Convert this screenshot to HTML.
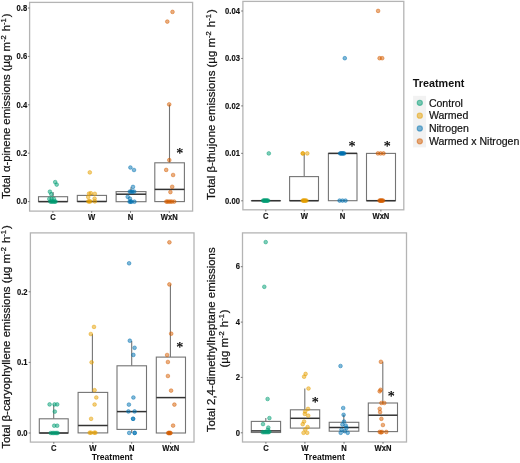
<!DOCTYPE html>
<html><head><meta charset="utf-8"><style>
html,body{margin:0;padding:0;background:#fff;}
body{width:520px;height:463px;overflow:hidden;}
svg{display:block;will-change:transform;font-family:"Liberation Sans",sans-serif;}
</style></head><body>
<svg width="520" height="463" viewBox="0 0 520 463">
<rect width="520" height="463" fill="#fff"/>
<line x1="53.1" y1="192.1" x2="53.1" y2="196.7" stroke="#747474" stroke-width="1.1"/>
<rect x="38.5" y="196.7" width="29.10" height="4.90" fill="#fff" stroke="#747474" stroke-width="1.1"/>
<line x1="38.5" y1="201.6" x2="67.6" y2="201.6" stroke="#333" stroke-width="1.5"/>
<line x1="91.9" y1="194.0" x2="91.9" y2="195.4" stroke="#747474" stroke-width="1.1"/>
<rect x="77.3" y="195.4" width="29.20" height="6.10" fill="#fff" stroke="#747474" stroke-width="1.1"/>
<line x1="77.3" y1="201.5" x2="106.5" y2="201.5" stroke="#333" stroke-width="1.5"/>
<line x1="131.0" y1="187.2" x2="131.0" y2="191.6" stroke="#747474" stroke-width="1.1"/>
<rect x="116.1" y="191.6" width="29.90" height="10.10" fill="#fff" stroke="#747474" stroke-width="1.1"/>
<line x1="116.1" y1="194.2" x2="146.0" y2="194.2" stroke="#333" stroke-width="1.5"/>
<line x1="169.5" y1="104.6" x2="169.5" y2="162.8" stroke="#747474" stroke-width="1.1"/>
<rect x="154.8" y="162.8" width="29.60" height="38.80" fill="#fff" stroke="#747474" stroke-width="1.1"/>
<line x1="154.8" y1="189.4" x2="184.4" y2="189.4" stroke="#333" stroke-width="1.5"/>
<circle cx="55.2" cy="182.1" r="1.85" fill="#009E73" fill-opacity="0.5" stroke="#009E73" stroke-opacity="0.5" stroke-width="0.9"/>
<circle cx="56.7" cy="184.6" r="1.85" fill="#009E73" fill-opacity="0.5" stroke="#009E73" stroke-opacity="0.5" stroke-width="0.9"/>
<circle cx="49.9" cy="191.7" r="1.85" fill="#009E73" fill-opacity="0.5" stroke="#009E73" stroke-opacity="0.5" stroke-width="0.9"/>
<circle cx="51.3" cy="194.2" r="1.85" fill="#009E73" fill-opacity="0.5" stroke="#009E73" stroke-opacity="0.5" stroke-width="0.9"/>
<circle cx="49.3" cy="198.9" r="1.85" fill="#009E73" fill-opacity="0.5" stroke="#009E73" stroke-opacity="0.5" stroke-width="0.9"/>
<circle cx="51.6" cy="198.9" r="1.85" fill="#009E73" fill-opacity="0.5" stroke="#009E73" stroke-opacity="0.5" stroke-width="0.9"/>
<circle cx="53.9" cy="198.9" r="1.85" fill="#009E73" fill-opacity="0.5" stroke="#009E73" stroke-opacity="0.5" stroke-width="0.9"/>
<circle cx="50.3" cy="201.6" r="1.85" fill="#009E73" fill-opacity="0.5" stroke="#009E73" stroke-opacity="0.5" stroke-width="0.9"/>
<circle cx="51.4" cy="201.6" r="1.85" fill="#009E73" fill-opacity="0.5" stroke="#009E73" stroke-opacity="0.5" stroke-width="0.9"/>
<circle cx="52.5" cy="201.6" r="1.85" fill="#009E73" fill-opacity="0.5" stroke="#009E73" stroke-opacity="0.5" stroke-width="0.9"/>
<circle cx="53.6" cy="201.6" r="1.85" fill="#009E73" fill-opacity="0.5" stroke="#009E73" stroke-opacity="0.5" stroke-width="0.9"/>
<circle cx="54.7" cy="201.6" r="1.85" fill="#009E73" fill-opacity="0.5" stroke="#009E73" stroke-opacity="0.5" stroke-width="0.9"/>
<circle cx="55.6" cy="201.6" r="1.85" fill="#009E73" fill-opacity="0.5" stroke="#009E73" stroke-opacity="0.5" stroke-width="0.9"/>
<circle cx="89.8" cy="172.4" r="1.85" fill="#E69F00" fill-opacity="0.5" stroke="#E69F00" stroke-opacity="0.5" stroke-width="0.9"/>
<circle cx="89.0" cy="193.6" r="1.85" fill="#E69F00" fill-opacity="0.5" stroke="#E69F00" stroke-opacity="0.5" stroke-width="0.9"/>
<circle cx="90.8" cy="193.2" r="1.85" fill="#E69F00" fill-opacity="0.5" stroke="#E69F00" stroke-opacity="0.5" stroke-width="0.9"/>
<circle cx="94.8" cy="193.8" r="1.85" fill="#E69F00" fill-opacity="0.5" stroke="#E69F00" stroke-opacity="0.5" stroke-width="0.9"/>
<circle cx="88.2" cy="197.0" r="1.85" fill="#E69F00" fill-opacity="0.5" stroke="#E69F00" stroke-opacity="0.5" stroke-width="0.9"/>
<circle cx="94.6" cy="198.6" r="1.85" fill="#E69F00" fill-opacity="0.5" stroke="#E69F00" stroke-opacity="0.5" stroke-width="0.9"/>
<circle cx="88.3" cy="201.4" r="1.85" fill="#E69F00" fill-opacity="0.5" stroke="#E69F00" stroke-opacity="0.5" stroke-width="0.9"/>
<circle cx="89.3" cy="201.4" r="1.85" fill="#E69F00" fill-opacity="0.5" stroke="#E69F00" stroke-opacity="0.5" stroke-width="0.9"/>
<circle cx="90.3" cy="201.4" r="1.85" fill="#E69F00" fill-opacity="0.5" stroke="#E69F00" stroke-opacity="0.5" stroke-width="0.9"/>
<circle cx="94.8" cy="201.4" r="1.85" fill="#E69F00" fill-opacity="0.5" stroke="#E69F00" stroke-opacity="0.5" stroke-width="0.9"/>
<circle cx="130.4" cy="167.5" r="1.85" fill="#0072B2" fill-opacity="0.5" stroke="#0072B2" stroke-opacity="0.5" stroke-width="0.9"/>
<circle cx="134.0" cy="170.0" r="1.85" fill="#0072B2" fill-opacity="0.5" stroke="#0072B2" stroke-opacity="0.5" stroke-width="0.9"/>
<circle cx="133.0" cy="186.9" r="1.85" fill="#0072B2" fill-opacity="0.5" stroke="#0072B2" stroke-opacity="0.5" stroke-width="0.9"/>
<circle cx="129.8" cy="191.6" r="1.85" fill="#0072B2" fill-opacity="0.5" stroke="#0072B2" stroke-opacity="0.5" stroke-width="0.9"/>
<circle cx="131.2" cy="191.6" r="1.85" fill="#0072B2" fill-opacity="0.5" stroke="#0072B2" stroke-opacity="0.5" stroke-width="0.9"/>
<circle cx="132.6" cy="191.6" r="1.85" fill="#0072B2" fill-opacity="0.5" stroke="#0072B2" stroke-opacity="0.5" stroke-width="0.9"/>
<circle cx="134.2" cy="191.6" r="1.85" fill="#0072B2" fill-opacity="0.5" stroke="#0072B2" stroke-opacity="0.5" stroke-width="0.9"/>
<circle cx="127.7" cy="196.8" r="1.85" fill="#0072B2" fill-opacity="0.5" stroke="#0072B2" stroke-opacity="0.5" stroke-width="0.9"/>
<circle cx="129.9" cy="198.6" r="1.85" fill="#0072B2" fill-opacity="0.5" stroke="#0072B2" stroke-opacity="0.5" stroke-width="0.9"/>
<circle cx="129.6" cy="201.7" r="1.85" fill="#0072B2" fill-opacity="0.5" stroke="#0072B2" stroke-opacity="0.5" stroke-width="0.9"/>
<circle cx="130.6" cy="201.7" r="1.85" fill="#0072B2" fill-opacity="0.5" stroke="#0072B2" stroke-opacity="0.5" stroke-width="0.9"/>
<circle cx="131.6" cy="201.7" r="1.85" fill="#0072B2" fill-opacity="0.5" stroke="#0072B2" stroke-opacity="0.5" stroke-width="0.9"/>
<circle cx="134.4" cy="201.7" r="1.85" fill="#0072B2" fill-opacity="0.5" stroke="#0072B2" stroke-opacity="0.5" stroke-width="0.9"/>
<circle cx="172.5" cy="11.9" r="1.85" fill="#D55E00" fill-opacity="0.5" stroke="#D55E00" stroke-opacity="0.5" stroke-width="0.9"/>
<circle cx="167.3" cy="21.6" r="1.85" fill="#D55E00" fill-opacity="0.5" stroke="#D55E00" stroke-opacity="0.5" stroke-width="0.9"/>
<circle cx="169.2" cy="104.4" r="1.85" fill="#D55E00" fill-opacity="0.5" stroke="#D55E00" stroke-opacity="0.5" stroke-width="0.9"/>
<circle cx="169.3" cy="160.1" r="1.85" fill="#D55E00" fill-opacity="0.5" stroke="#D55E00" stroke-opacity="0.5" stroke-width="0.9"/>
<circle cx="166.2" cy="169.9" r="1.85" fill="#D55E00" fill-opacity="0.5" stroke="#D55E00" stroke-opacity="0.5" stroke-width="0.9"/>
<circle cx="173.1" cy="175.0" r="1.85" fill="#D55E00" fill-opacity="0.5" stroke="#D55E00" stroke-opacity="0.5" stroke-width="0.9"/>
<circle cx="172.2" cy="186.8" r="1.85" fill="#D55E00" fill-opacity="0.5" stroke="#D55E00" stroke-opacity="0.5" stroke-width="0.9"/>
<circle cx="170.4" cy="192.1" r="1.85" fill="#D55E00" fill-opacity="0.5" stroke="#D55E00" stroke-opacity="0.5" stroke-width="0.9"/>
<circle cx="166.3" cy="201.6" r="1.85" fill="#D55E00" fill-opacity="0.5" stroke="#D55E00" stroke-opacity="0.5" stroke-width="0.9"/>
<circle cx="167.5" cy="201.6" r="1.85" fill="#D55E00" fill-opacity="0.5" stroke="#D55E00" stroke-opacity="0.5" stroke-width="0.9"/>
<circle cx="169.0" cy="201.6" r="1.85" fill="#D55E00" fill-opacity="0.5" stroke="#D55E00" stroke-opacity="0.5" stroke-width="0.9"/>
<circle cx="170.5" cy="201.6" r="1.85" fill="#D55E00" fill-opacity="0.5" stroke="#D55E00" stroke-opacity="0.5" stroke-width="0.9"/>
<circle cx="172.0" cy="201.6" r="1.85" fill="#D55E00" fill-opacity="0.5" stroke="#D55E00" stroke-opacity="0.5" stroke-width="0.9"/>
<circle cx="174.2" cy="201.6" r="1.85" fill="#D55E00" fill-opacity="0.5" stroke="#D55E00" stroke-opacity="0.5" stroke-width="0.9"/>
<text x="179.67" y="158.30" text-anchor="middle" font-family="Liberation Serif" font-size="14.0" fill="#000" stroke="#000" stroke-width="0.25">*</text>
<rect x="29.6" y="2.4" width="163.00" height="208.70" fill="none" stroke="#b4b4b4" stroke-width="1.3"/>
<line x1="27.900000000000002" y1="201.6" x2="29.6" y2="201.6" stroke="#666" stroke-width="0.9"/>
<text transform="translate(27.2,204.35) scale(0.93,1)" text-anchor="end" font-size="8.2" font-weight="bold" fill="#111" stroke="#111" stroke-width="0.15">0.0</text>
<line x1="27.900000000000002" y1="153.2" x2="29.6" y2="153.2" stroke="#666" stroke-width="0.9"/>
<text transform="translate(27.2,155.95) scale(0.93,1)" text-anchor="end" font-size="8.2" font-weight="bold" fill="#111" stroke="#111" stroke-width="0.15">0.2</text>
<line x1="27.900000000000002" y1="104.8" x2="29.6" y2="104.8" stroke="#666" stroke-width="0.9"/>
<text transform="translate(27.2,107.55) scale(0.93,1)" text-anchor="end" font-size="8.2" font-weight="bold" fill="#111" stroke="#111" stroke-width="0.15">0.4</text>
<line x1="27.900000000000002" y1="56.4" x2="29.6" y2="56.4" stroke="#666" stroke-width="0.9"/>
<text transform="translate(27.2,59.15) scale(0.93,1)" text-anchor="end" font-size="8.2" font-weight="bold" fill="#111" stroke="#111" stroke-width="0.15">0.6</text>
<line x1="27.900000000000002" y1="8.0" x2="29.6" y2="8.0" stroke="#666" stroke-width="0.9"/>
<text transform="translate(27.2,10.75) scale(0.93,1)" text-anchor="end" font-size="8.2" font-weight="bold" fill="#111" stroke="#111" stroke-width="0.15">0.8</text>
<line x1="52.9" y1="211.1" x2="52.9" y2="212.79999999999998" stroke="#666" stroke-width="0.9"/>
<text transform="translate(52.9,219.8) scale(0.93,1)" text-anchor="middle" font-size="8.2" font-weight="bold" fill="#111" stroke="#111" stroke-width="0.15">C</text>
<line x1="91.7" y1="211.1" x2="91.7" y2="212.79999999999998" stroke="#666" stroke-width="0.9"/>
<text transform="translate(91.7,219.8) scale(0.93,1)" text-anchor="middle" font-size="8.2" font-weight="bold" fill="#111" stroke="#111" stroke-width="0.15">W</text>
<line x1="130.5" y1="211.1" x2="130.5" y2="212.79999999999998" stroke="#666" stroke-width="0.9"/>
<text transform="translate(130.5,219.8) scale(0.93,1)" text-anchor="middle" font-size="8.2" font-weight="bold" fill="#111" stroke="#111" stroke-width="0.15">N</text>
<line x1="169.3" y1="211.1" x2="169.3" y2="212.79999999999998" stroke="#666" stroke-width="0.9"/>
<text transform="translate(169.3,219.8) scale(0.93,1)" text-anchor="middle" font-size="8.2" font-weight="bold" fill="#111" stroke="#111" stroke-width="0.15">WxN</text>
<text transform="translate(9.8,106.3) rotate(-90)" text-anchor="middle" font-size="11.32" fill="#111" stroke="#111" stroke-width="0.22">Total α-pinene emissions (µg m<tspan dy="-4.2" font-size="7.6">-2</tspan><tspan dy="4.2" dx="0.9"> h</tspan><tspan dy="-4.2" font-size="7.6">-1</tspan><tspan dy="4.2" dx="0.9">)</tspan></text>
<rect x="251.4" y="200.7" width="29.10" height="0.01" fill="#fff" stroke="#747474" stroke-width="1.1"/>
<line x1="251.4" y1="200.7" x2="280.5" y2="200.7" stroke="#333" stroke-width="1.5"/>
<line x1="304.2" y1="153.4" x2="304.2" y2="176.6" stroke="#747474" stroke-width="1.1"/>
<rect x="289.6" y="176.6" width="28.90" height="24.10" fill="#fff" stroke="#747474" stroke-width="1.1"/>
<line x1="289.6" y1="200.7" x2="318.5" y2="200.7" stroke="#333" stroke-width="1.5"/>
<rect x="328.4" y="153.4" width="28.60" height="47.30" fill="#fff" stroke="#747474" stroke-width="1.1"/>
<line x1="328.4" y1="153.4" x2="357.0" y2="153.4" stroke="#333" stroke-width="1.5"/>
<rect x="366.5" y="153.4" width="29.00" height="47.30" fill="#fff" stroke="#747474" stroke-width="1.1"/>
<line x1="366.5" y1="200.7" x2="395.5" y2="200.7" stroke="#333" stroke-width="1.5"/>
<circle cx="268.8" cy="153.4" r="1.85" fill="#009E73" fill-opacity="0.5" stroke="#009E73" stroke-opacity="0.5" stroke-width="0.9"/>
<circle cx="263.1" cy="200.6" r="1.85" fill="#009E73" fill-opacity="0.5" stroke="#009E73" stroke-opacity="0.5" stroke-width="0.9"/>
<circle cx="263.8" cy="200.6" r="1.85" fill="#009E73" fill-opacity="0.5" stroke="#009E73" stroke-opacity="0.5" stroke-width="0.9"/>
<circle cx="264.5" cy="200.6" r="1.85" fill="#009E73" fill-opacity="0.5" stroke="#009E73" stroke-opacity="0.5" stroke-width="0.9"/>
<circle cx="265.2" cy="200.6" r="1.85" fill="#009E73" fill-opacity="0.5" stroke="#009E73" stroke-opacity="0.5" stroke-width="0.9"/>
<circle cx="265.9" cy="200.6" r="1.85" fill="#009E73" fill-opacity="0.5" stroke="#009E73" stroke-opacity="0.5" stroke-width="0.9"/>
<circle cx="266.6" cy="200.6" r="1.85" fill="#009E73" fill-opacity="0.5" stroke="#009E73" stroke-opacity="0.5" stroke-width="0.9"/>
<circle cx="267.3" cy="200.6" r="1.85" fill="#009E73" fill-opacity="0.5" stroke="#009E73" stroke-opacity="0.5" stroke-width="0.9"/>
<circle cx="268.1" cy="200.6" r="1.85" fill="#009E73" fill-opacity="0.5" stroke="#009E73" stroke-opacity="0.5" stroke-width="0.9"/>
<circle cx="302.7" cy="153.4" r="1.85" fill="#E69F00" fill-opacity="0.5" stroke="#E69F00" stroke-opacity="0.5" stroke-width="0.9"/>
<circle cx="302.9" cy="153.4" r="1.85" fill="#E69F00" fill-opacity="0.5" stroke="#E69F00" stroke-opacity="0.5" stroke-width="0.9"/>
<circle cx="307.3" cy="153.4" r="1.85" fill="#E69F00" fill-opacity="0.5" stroke="#E69F00" stroke-opacity="0.5" stroke-width="0.9"/>
<circle cx="302.7" cy="200.6" r="1.85" fill="#E69F00" fill-opacity="0.5" stroke="#E69F00" stroke-opacity="0.5" stroke-width="0.9"/>
<circle cx="303.4" cy="200.6" r="1.85" fill="#E69F00" fill-opacity="0.5" stroke="#E69F00" stroke-opacity="0.5" stroke-width="0.9"/>
<circle cx="304.1" cy="200.6" r="1.85" fill="#E69F00" fill-opacity="0.5" stroke="#E69F00" stroke-opacity="0.5" stroke-width="0.9"/>
<circle cx="304.8" cy="200.6" r="1.85" fill="#E69F00" fill-opacity="0.5" stroke="#E69F00" stroke-opacity="0.5" stroke-width="0.9"/>
<circle cx="305.5" cy="200.6" r="1.85" fill="#E69F00" fill-opacity="0.5" stroke="#E69F00" stroke-opacity="0.5" stroke-width="0.9"/>
<circle cx="306.5" cy="200.6" r="1.85" fill="#E69F00" fill-opacity="0.5" stroke="#E69F00" stroke-opacity="0.5" stroke-width="0.9"/>
<circle cx="344.8" cy="58.2" r="1.85" fill="#0072B2" fill-opacity="0.5" stroke="#0072B2" stroke-opacity="0.5" stroke-width="0.9"/>
<circle cx="340.1" cy="153.4" r="1.85" fill="#0072B2" fill-opacity="0.5" stroke="#0072B2" stroke-opacity="0.5" stroke-width="0.9"/>
<circle cx="340.9" cy="153.4" r="1.85" fill="#0072B2" fill-opacity="0.5" stroke="#0072B2" stroke-opacity="0.5" stroke-width="0.9"/>
<circle cx="341.7" cy="153.4" r="1.85" fill="#0072B2" fill-opacity="0.5" stroke="#0072B2" stroke-opacity="0.5" stroke-width="0.9"/>
<circle cx="342.5" cy="153.4" r="1.85" fill="#0072B2" fill-opacity="0.5" stroke="#0072B2" stroke-opacity="0.5" stroke-width="0.9"/>
<circle cx="343.3" cy="153.4" r="1.85" fill="#0072B2" fill-opacity="0.5" stroke="#0072B2" stroke-opacity="0.5" stroke-width="0.9"/>
<circle cx="344.2" cy="153.4" r="1.85" fill="#0072B2" fill-opacity="0.5" stroke="#0072B2" stroke-opacity="0.5" stroke-width="0.9"/>
<circle cx="339.6" cy="200.6" r="1.85" fill="#0072B2" fill-opacity="0.5" stroke="#0072B2" stroke-opacity="0.5" stroke-width="0.9"/>
<circle cx="342.5" cy="200.6" r="1.85" fill="#0072B2" fill-opacity="0.5" stroke="#0072B2" stroke-opacity="0.5" stroke-width="0.9"/>
<circle cx="345.5" cy="200.6" r="1.85" fill="#0072B2" fill-opacity="0.5" stroke="#0072B2" stroke-opacity="0.5" stroke-width="0.9"/>
<circle cx="378.1" cy="10.9" r="1.85" fill="#D55E00" fill-opacity="0.5" stroke="#D55E00" stroke-opacity="0.5" stroke-width="0.9"/>
<circle cx="379.6" cy="58.2" r="1.85" fill="#D55E00" fill-opacity="0.5" stroke="#D55E00" stroke-opacity="0.5" stroke-width="0.9"/>
<circle cx="382.2" cy="58.2" r="1.85" fill="#D55E00" fill-opacity="0.5" stroke="#D55E00" stroke-opacity="0.5" stroke-width="0.9"/>
<circle cx="377.9" cy="153.4" r="1.85" fill="#D55E00" fill-opacity="0.5" stroke="#D55E00" stroke-opacity="0.5" stroke-width="0.9"/>
<circle cx="380.6" cy="153.4" r="1.85" fill="#D55E00" fill-opacity="0.5" stroke="#D55E00" stroke-opacity="0.5" stroke-width="0.9"/>
<circle cx="383.5" cy="153.4" r="1.85" fill="#D55E00" fill-opacity="0.5" stroke="#D55E00" stroke-opacity="0.5" stroke-width="0.9"/>
<circle cx="379.5" cy="200.6" r="1.85" fill="#D55E00" fill-opacity="0.5" stroke="#D55E00" stroke-opacity="0.5" stroke-width="0.9"/>
<circle cx="380.2" cy="200.6" r="1.85" fill="#D55E00" fill-opacity="0.5" stroke="#D55E00" stroke-opacity="0.5" stroke-width="0.9"/>
<circle cx="380.9" cy="200.6" r="1.85" fill="#D55E00" fill-opacity="0.5" stroke="#D55E00" stroke-opacity="0.5" stroke-width="0.9"/>
<circle cx="381.6" cy="200.6" r="1.85" fill="#D55E00" fill-opacity="0.5" stroke="#D55E00" stroke-opacity="0.5" stroke-width="0.9"/>
<circle cx="382.3" cy="200.6" r="1.85" fill="#D55E00" fill-opacity="0.5" stroke="#D55E00" stroke-opacity="0.5" stroke-width="0.9"/>
<circle cx="383.1" cy="200.6" r="1.85" fill="#D55E00" fill-opacity="0.5" stroke="#D55E00" stroke-opacity="0.5" stroke-width="0.9"/>
<text x="351.97" y="150.70" text-anchor="middle" font-family="Liberation Serif" font-size="14.0" fill="#000" stroke="#000" stroke-width="0.25">*</text>
<text x="387.37" y="150.70" text-anchor="middle" font-family="Liberation Serif" font-size="14.0" fill="#000" stroke="#000" stroke-width="0.25">*</text>
<rect x="242.9" y="1.4" width="160.90" height="208.40" fill="none" stroke="#b4b4b4" stroke-width="1.3"/>
<line x1="241.20000000000002" y1="200.8" x2="242.9" y2="200.8" stroke="#666" stroke-width="0.9"/>
<text transform="translate(239.9,203.55) scale(0.93,1)" text-anchor="end" font-size="8.2" font-weight="bold" fill="#111" stroke="#111" stroke-width="0.15">0.00</text>
<line x1="241.20000000000002" y1="153.35" x2="242.9" y2="153.35" stroke="#666" stroke-width="0.9"/>
<text transform="translate(239.9,156.10) scale(0.93,1)" text-anchor="end" font-size="8.2" font-weight="bold" fill="#111" stroke="#111" stroke-width="0.15">0.01</text>
<line x1="241.20000000000002" y1="105.9" x2="242.9" y2="105.9" stroke="#666" stroke-width="0.9"/>
<text transform="translate(239.9,108.65) scale(0.93,1)" text-anchor="end" font-size="8.2" font-weight="bold" fill="#111" stroke="#111" stroke-width="0.15">0.02</text>
<line x1="241.20000000000002" y1="58.45" x2="242.9" y2="58.45" stroke="#666" stroke-width="0.9"/>
<text transform="translate(239.9,61.20) scale(0.93,1)" text-anchor="end" font-size="8.2" font-weight="bold" fill="#111" stroke="#111" stroke-width="0.15">0.03</text>
<line x1="241.20000000000002" y1="11.0" x2="242.9" y2="11.0" stroke="#666" stroke-width="0.9"/>
<text transform="translate(239.9,13.75) scale(0.93,1)" text-anchor="end" font-size="8.2" font-weight="bold" fill="#111" stroke="#111" stroke-width="0.15">0.04</text>
<line x1="265.8" y1="209.8" x2="265.8" y2="211.5" stroke="#666" stroke-width="0.9"/>
<text transform="translate(265.8,218.8) scale(0.93,1)" text-anchor="middle" font-size="8.2" font-weight="bold" fill="#111" stroke="#111" stroke-width="0.15">C</text>
<line x1="304.3" y1="209.8" x2="304.3" y2="211.5" stroke="#666" stroke-width="0.9"/>
<text transform="translate(304.3,218.8) scale(0.93,1)" text-anchor="middle" font-size="8.2" font-weight="bold" fill="#111" stroke="#111" stroke-width="0.15">W</text>
<line x1="342.6" y1="209.8" x2="342.6" y2="211.5" stroke="#666" stroke-width="0.9"/>
<text transform="translate(342.6,218.8) scale(0.93,1)" text-anchor="middle" font-size="8.2" font-weight="bold" fill="#111" stroke="#111" stroke-width="0.15">N</text>
<line x1="380.9" y1="209.8" x2="380.9" y2="211.5" stroke="#666" stroke-width="0.9"/>
<text transform="translate(380.9,218.8) scale(0.93,1)" text-anchor="middle" font-size="8.2" font-weight="bold" fill="#111" stroke="#111" stroke-width="0.15">WxN</text>
<text transform="translate(215,104.6) rotate(-90)" text-anchor="middle" font-size="11.45" fill="#111" stroke="#111" stroke-width="0.22">Total β-thujone emissions (µg m<tspan dy="-4.2" font-size="7.6">-2</tspan><tspan dy="4.2" dx="0.9"> h</tspan><tspan dy="-4.2" font-size="7.6">-1</tspan><tspan dy="4.2" dx="0.9">)</tspan></text>
<line x1="53.7" y1="404.6" x2="53.7" y2="418.8" stroke="#747474" stroke-width="1.1"/>
<rect x="39.3" y="418.8" width="28.90" height="14.20" fill="#fff" stroke="#747474" stroke-width="1.1"/>
<line x1="39.3" y1="433.0" x2="68.2" y2="433.0" stroke="#333" stroke-width="1.5"/>
<line x1="92.4" y1="334.0" x2="92.4" y2="392.4" stroke="#747474" stroke-width="1.1"/>
<rect x="78.1" y="392.4" width="29.60" height="40.50" fill="#fff" stroke="#747474" stroke-width="1.1"/>
<line x1="78.1" y1="425.5" x2="107.7" y2="425.5" stroke="#333" stroke-width="1.5"/>
<line x1="131.7" y1="340.9" x2="131.7" y2="365.8" stroke="#747474" stroke-width="1.1"/>
<line x1="131.7" y1="429.4" x2="131.7" y2="433.0" stroke="#747474" stroke-width="1.1"/>
<rect x="117.0" y="365.8" width="29.50" height="63.60" fill="#fff" stroke="#747474" stroke-width="1.1"/>
<line x1="117.0" y1="411.6" x2="146.5" y2="411.6" stroke="#333" stroke-width="1.5"/>
<line x1="170.4" y1="284.4" x2="170.4" y2="357.1" stroke="#747474" stroke-width="1.1"/>
<rect x="156.3" y="357.1" width="29.20" height="75.90" fill="#fff" stroke="#747474" stroke-width="1.1"/>
<line x1="156.3" y1="397.6" x2="185.5" y2="397.6" stroke="#333" stroke-width="1.5"/>
<circle cx="49.6" cy="404.4" r="1.85" fill="#009E73" fill-opacity="0.5" stroke="#009E73" stroke-opacity="0.5" stroke-width="0.9"/>
<circle cx="54.5" cy="404.4" r="1.85" fill="#009E73" fill-opacity="0.5" stroke="#009E73" stroke-opacity="0.5" stroke-width="0.9"/>
<circle cx="57.2" cy="404.4" r="1.85" fill="#009E73" fill-opacity="0.5" stroke="#009E73" stroke-opacity="0.5" stroke-width="0.9"/>
<circle cx="54.8" cy="411.6" r="1.85" fill="#009E73" fill-opacity="0.5" stroke="#009E73" stroke-opacity="0.5" stroke-width="0.9"/>
<circle cx="54.2" cy="425.7" r="1.85" fill="#009E73" fill-opacity="0.5" stroke="#009E73" stroke-opacity="0.5" stroke-width="0.9"/>
<circle cx="57.2" cy="425.7" r="1.85" fill="#009E73" fill-opacity="0.5" stroke="#009E73" stroke-opacity="0.5" stroke-width="0.9"/>
<circle cx="50.7" cy="433.0" r="1.85" fill="#009E73" fill-opacity="0.5" stroke="#009E73" stroke-opacity="0.5" stroke-width="0.9"/>
<circle cx="52.2" cy="433.0" r="1.85" fill="#009E73" fill-opacity="0.5" stroke="#009E73" stroke-opacity="0.5" stroke-width="0.9"/>
<circle cx="53.6" cy="433.0" r="1.85" fill="#009E73" fill-opacity="0.5" stroke="#009E73" stroke-opacity="0.5" stroke-width="0.9"/>
<circle cx="55.0" cy="433.0" r="1.85" fill="#009E73" fill-opacity="0.5" stroke="#009E73" stroke-opacity="0.5" stroke-width="0.9"/>
<circle cx="56.4" cy="433.0" r="1.85" fill="#009E73" fill-opacity="0.5" stroke="#009E73" stroke-opacity="0.5" stroke-width="0.9"/>
<circle cx="57.7" cy="433.0" r="1.85" fill="#009E73" fill-opacity="0.5" stroke="#009E73" stroke-opacity="0.5" stroke-width="0.9"/>
<circle cx="94.0" cy="326.9" r="1.85" fill="#E69F00" fill-opacity="0.5" stroke="#E69F00" stroke-opacity="0.5" stroke-width="0.9"/>
<circle cx="90.8" cy="334.0" r="1.85" fill="#E69F00" fill-opacity="0.5" stroke="#E69F00" stroke-opacity="0.5" stroke-width="0.9"/>
<circle cx="91.6" cy="362.3" r="1.85" fill="#E69F00" fill-opacity="0.5" stroke="#E69F00" stroke-opacity="0.5" stroke-width="0.9"/>
<circle cx="94.6" cy="390.2" r="1.85" fill="#E69F00" fill-opacity="0.5" stroke="#E69F00" stroke-opacity="0.5" stroke-width="0.9"/>
<circle cx="96.3" cy="397.5" r="1.85" fill="#E69F00" fill-opacity="0.5" stroke="#E69F00" stroke-opacity="0.5" stroke-width="0.9"/>
<circle cx="94.6" cy="404.5" r="1.85" fill="#E69F00" fill-opacity="0.5" stroke="#E69F00" stroke-opacity="0.5" stroke-width="0.9"/>
<circle cx="91.1" cy="418.8" r="1.85" fill="#E69F00" fill-opacity="0.5" stroke="#E69F00" stroke-opacity="0.5" stroke-width="0.9"/>
<circle cx="89.7" cy="432.7" r="1.85" fill="#E69F00" fill-opacity="0.5" stroke="#E69F00" stroke-opacity="0.5" stroke-width="0.9"/>
<circle cx="91.0" cy="432.7" r="1.85" fill="#E69F00" fill-opacity="0.5" stroke="#E69F00" stroke-opacity="0.5" stroke-width="0.9"/>
<circle cx="94.2" cy="432.7" r="1.85" fill="#E69F00" fill-opacity="0.5" stroke="#E69F00" stroke-opacity="0.5" stroke-width="0.9"/>
<circle cx="95.4" cy="432.7" r="1.85" fill="#E69F00" fill-opacity="0.5" stroke="#E69F00" stroke-opacity="0.5" stroke-width="0.9"/>
<circle cx="129.1" cy="263.3" r="1.85" fill="#0072B2" fill-opacity="0.5" stroke="#0072B2" stroke-opacity="0.5" stroke-width="0.9"/>
<circle cx="129.8" cy="340.7" r="1.85" fill="#0072B2" fill-opacity="0.5" stroke="#0072B2" stroke-opacity="0.5" stroke-width="0.9"/>
<circle cx="134.6" cy="347.8" r="1.85" fill="#0072B2" fill-opacity="0.5" stroke="#0072B2" stroke-opacity="0.5" stroke-width="0.9"/>
<circle cx="133.4" cy="354.9" r="1.85" fill="#0072B2" fill-opacity="0.5" stroke="#0072B2" stroke-opacity="0.5" stroke-width="0.9"/>
<circle cx="133.4" cy="397.5" r="1.85" fill="#0072B2" fill-opacity="0.5" stroke="#0072B2" stroke-opacity="0.5" stroke-width="0.9"/>
<circle cx="128.9" cy="404.6" r="1.85" fill="#0072B2" fill-opacity="0.5" stroke="#0072B2" stroke-opacity="0.5" stroke-width="0.9"/>
<circle cx="128.4" cy="411.4" r="1.85" fill="#0072B2" fill-opacity="0.5" stroke="#0072B2" stroke-opacity="0.5" stroke-width="0.9"/>
<circle cx="134.6" cy="411.4" r="1.85" fill="#0072B2" fill-opacity="0.5" stroke="#0072B2" stroke-opacity="0.5" stroke-width="0.9"/>
<circle cx="133.1" cy="418.8" r="1.85" fill="#0072B2" fill-opacity="0.5" stroke="#0072B2" stroke-opacity="0.5" stroke-width="0.9"/>
<circle cx="133.1" cy="418.8" r="1.85" fill="#0072B2" fill-opacity="0.5" stroke="#0072B2" stroke-opacity="0.5" stroke-width="0.9"/>
<circle cx="129.2" cy="432.9" r="1.85" fill="#0072B2" fill-opacity="0.5" stroke="#0072B2" stroke-opacity="0.5" stroke-width="0.9"/>
<circle cx="134.6" cy="432.9" r="1.85" fill="#0072B2" fill-opacity="0.5" stroke="#0072B2" stroke-opacity="0.5" stroke-width="0.9"/>
<circle cx="134.8" cy="432.9" r="1.85" fill="#0072B2" fill-opacity="0.5" stroke="#0072B2" stroke-opacity="0.5" stroke-width="0.9"/>
<circle cx="169.4" cy="242.3" r="1.85" fill="#D55E00" fill-opacity="0.5" stroke="#D55E00" stroke-opacity="0.5" stroke-width="0.9"/>
<circle cx="169.4" cy="284.4" r="1.85" fill="#D55E00" fill-opacity="0.5" stroke="#D55E00" stroke-opacity="0.5" stroke-width="0.9"/>
<circle cx="171.2" cy="333.7" r="1.85" fill="#D55E00" fill-opacity="0.5" stroke="#D55E00" stroke-opacity="0.5" stroke-width="0.9"/>
<circle cx="167.1" cy="355.0" r="1.85" fill="#D55E00" fill-opacity="0.5" stroke="#D55E00" stroke-opacity="0.5" stroke-width="0.9"/>
<circle cx="167.9" cy="362.0" r="1.85" fill="#D55E00" fill-opacity="0.5" stroke="#D55E00" stroke-opacity="0.5" stroke-width="0.9"/>
<circle cx="167.9" cy="376.0" r="1.85" fill="#D55E00" fill-opacity="0.5" stroke="#D55E00" stroke-opacity="0.5" stroke-width="0.9"/>
<circle cx="171.1" cy="390.6" r="1.85" fill="#D55E00" fill-opacity="0.5" stroke="#D55E00" stroke-opacity="0.5" stroke-width="0.9"/>
<circle cx="174.4" cy="404.6" r="1.85" fill="#D55E00" fill-opacity="0.5" stroke="#D55E00" stroke-opacity="0.5" stroke-width="0.9"/>
<circle cx="173.1" cy="425.6" r="1.85" fill="#D55E00" fill-opacity="0.5" stroke="#D55E00" stroke-opacity="0.5" stroke-width="0.9"/>
<circle cx="168.2" cy="433.0" r="1.85" fill="#D55E00" fill-opacity="0.5" stroke="#D55E00" stroke-opacity="0.5" stroke-width="0.9"/>
<circle cx="168.8" cy="433.0" r="1.85" fill="#D55E00" fill-opacity="0.5" stroke="#D55E00" stroke-opacity="0.5" stroke-width="0.9"/>
<circle cx="169.4" cy="433.0" r="1.85" fill="#D55E00" fill-opacity="0.5" stroke="#D55E00" stroke-opacity="0.5" stroke-width="0.9"/>
<circle cx="170.0" cy="433.0" r="1.85" fill="#D55E00" fill-opacity="0.5" stroke="#D55E00" stroke-opacity="0.5" stroke-width="0.9"/>
<circle cx="170.6" cy="433.0" r="1.85" fill="#D55E00" fill-opacity="0.5" stroke="#D55E00" stroke-opacity="0.5" stroke-width="0.9"/>
<text x="179.67" y="351.60" text-anchor="middle" font-family="Liberation Serif" font-size="14.0" fill="#000" stroke="#000" stroke-width="0.25">*</text>
<rect x="30.4" y="232.9" width="163.60" height="209.20" fill="none" stroke="#b4b4b4" stroke-width="1.3"/>
<line x1="28.7" y1="433.0" x2="30.4" y2="433.0" stroke="#666" stroke-width="0.9"/>
<text transform="translate(27.5,435.75) scale(0.93,1)" text-anchor="end" font-size="8.2" font-weight="bold" fill="#111" stroke="#111" stroke-width="0.15">0.0</text>
<line x1="28.7" y1="362.4" x2="30.4" y2="362.4" stroke="#666" stroke-width="0.9"/>
<text transform="translate(27.5,365.15) scale(0.93,1)" text-anchor="end" font-size="8.2" font-weight="bold" fill="#111" stroke="#111" stroke-width="0.15">0.1</text>
<line x1="28.7" y1="291.8" x2="30.4" y2="291.8" stroke="#666" stroke-width="0.9"/>
<text transform="translate(27.5,294.55) scale(0.93,1)" text-anchor="end" font-size="8.2" font-weight="bold" fill="#111" stroke="#111" stroke-width="0.15">0.2</text>
<line x1="53.8" y1="442.1" x2="53.8" y2="443.8" stroke="#666" stroke-width="0.9"/>
<text transform="translate(53.8,450.9) scale(0.93,1)" text-anchor="middle" font-size="8.2" font-weight="bold" fill="#111" stroke="#111" stroke-width="0.15">C</text>
<line x1="92.8" y1="442.1" x2="92.8" y2="443.8" stroke="#666" stroke-width="0.9"/>
<text transform="translate(92.8,450.9) scale(0.93,1)" text-anchor="middle" font-size="8.2" font-weight="bold" fill="#111" stroke="#111" stroke-width="0.15">W</text>
<line x1="131.7" y1="442.1" x2="131.7" y2="443.8" stroke="#666" stroke-width="0.9"/>
<text transform="translate(131.7,450.9) scale(0.93,1)" text-anchor="middle" font-size="8.2" font-weight="bold" fill="#111" stroke="#111" stroke-width="0.15">N</text>
<line x1="170.7" y1="442.1" x2="170.7" y2="443.8" stroke="#666" stroke-width="0.9"/>
<text transform="translate(170.7,450.9) scale(0.93,1)" text-anchor="middle" font-size="8.2" font-weight="bold" fill="#111" stroke="#111" stroke-width="0.15">WxN</text>
<text transform="translate(9.8,337) rotate(-90)" text-anchor="middle" font-size="11.45" fill="#111" stroke="#111" stroke-width="0.22">Total β-caryophyllene emissions (µg m<tspan dy="-4.2" font-size="7.6">-2</tspan><tspan dy="4.2" dx="0.9"> h</tspan><tspan dy="-4.2" font-size="7.6">-1</tspan><tspan dy="4.2" dx="0.9">)</tspan></text>
<text x="112.20" y="460.0" text-anchor="middle" font-size="8.55" font-weight="bold" fill="#111">Treatment</text>
<line x1="265.8" y1="418.1" x2="265.8" y2="421.4" stroke="#747474" stroke-width="1.1"/>
<rect x="251.3" y="421.4" width="29.30" height="11.10" fill="#fff" stroke="#747474" stroke-width="1.1"/>
<line x1="251.3" y1="430.9" x2="280.6" y2="430.9" stroke="#333" stroke-width="1.5"/>
<line x1="304.8" y1="388.5" x2="304.8" y2="409.8" stroke="#747474" stroke-width="1.1"/>
<rect x="290.4" y="409.8" width="29.30" height="18.30" fill="#fff" stroke="#747474" stroke-width="1.1"/>
<line x1="290.4" y1="418.3" x2="319.7" y2="418.3" stroke="#333" stroke-width="1.5"/>
<line x1="343.8" y1="414.8" x2="343.8" y2="422.3" stroke="#747474" stroke-width="1.1"/>
<line x1="343.8" y1="431.2" x2="343.8" y2="432.8" stroke="#747474" stroke-width="1.1"/>
<rect x="329.2" y="422.3" width="29.60" height="8.90" fill="#fff" stroke="#747474" stroke-width="1.1"/>
<line x1="329.2" y1="427.5" x2="358.8" y2="427.5" stroke="#333" stroke-width="1.5"/>
<line x1="382.8" y1="361.8" x2="382.8" y2="403.0" stroke="#747474" stroke-width="1.1"/>
<rect x="368.3" y="403.0" width="29.20" height="28.60" fill="#fff" stroke="#747474" stroke-width="1.1"/>
<line x1="368.3" y1="415.2" x2="397.5" y2="415.2" stroke="#333" stroke-width="1.5"/>
<circle cx="265.7" cy="242.1" r="1.85" fill="#009E73" fill-opacity="0.5" stroke="#009E73" stroke-opacity="0.5" stroke-width="0.9"/>
<circle cx="264.3" cy="286.8" r="1.85" fill="#009E73" fill-opacity="0.5" stroke="#009E73" stroke-opacity="0.5" stroke-width="0.9"/>
<circle cx="267.6" cy="399.0" r="1.85" fill="#009E73" fill-opacity="0.5" stroke="#009E73" stroke-opacity="0.5" stroke-width="0.9"/>
<circle cx="269.4" cy="418.1" r="1.85" fill="#009E73" fill-opacity="0.5" stroke="#009E73" stroke-opacity="0.5" stroke-width="0.9"/>
<circle cx="263.0" cy="424.1" r="1.85" fill="#009E73" fill-opacity="0.5" stroke="#009E73" stroke-opacity="0.5" stroke-width="0.9"/>
<circle cx="268.3" cy="427.6" r="1.85" fill="#009E73" fill-opacity="0.5" stroke="#009E73" stroke-opacity="0.5" stroke-width="0.9"/>
<circle cx="267.8" cy="429.9" r="1.85" fill="#009E73" fill-opacity="0.5" stroke="#009E73" stroke-opacity="0.5" stroke-width="0.9"/>
<circle cx="262.6" cy="432.2" r="1.85" fill="#009E73" fill-opacity="0.5" stroke="#009E73" stroke-opacity="0.5" stroke-width="0.9"/>
<circle cx="264.0" cy="432.2" r="1.85" fill="#009E73" fill-opacity="0.5" stroke="#009E73" stroke-opacity="0.5" stroke-width="0.9"/>
<circle cx="265.5" cy="432.2" r="1.85" fill="#009E73" fill-opacity="0.5" stroke="#009E73" stroke-opacity="0.5" stroke-width="0.9"/>
<circle cx="267.0" cy="432.2" r="1.85" fill="#009E73" fill-opacity="0.5" stroke="#009E73" stroke-opacity="0.5" stroke-width="0.9"/>
<circle cx="268.5" cy="432.2" r="1.85" fill="#009E73" fill-opacity="0.5" stroke="#009E73" stroke-opacity="0.5" stroke-width="0.9"/>
<circle cx="269.4" cy="431.6" r="1.85" fill="#009E73" fill-opacity="0.5" stroke="#009E73" stroke-opacity="0.5" stroke-width="0.9"/>
<circle cx="305.6" cy="373.9" r="1.85" fill="#E69F00" fill-opacity="0.5" stroke="#E69F00" stroke-opacity="0.5" stroke-width="0.9"/>
<circle cx="304.1" cy="376.7" r="1.85" fill="#E69F00" fill-opacity="0.5" stroke="#E69F00" stroke-opacity="0.5" stroke-width="0.9"/>
<circle cx="308.5" cy="388.5" r="1.85" fill="#E69F00" fill-opacity="0.5" stroke="#E69F00" stroke-opacity="0.5" stroke-width="0.9"/>
<circle cx="308.0" cy="408.9" r="1.85" fill="#E69F00" fill-opacity="0.5" stroke="#E69F00" stroke-opacity="0.5" stroke-width="0.9"/>
<circle cx="305.2" cy="411.5" r="1.85" fill="#E69F00" fill-opacity="0.5" stroke="#E69F00" stroke-opacity="0.5" stroke-width="0.9"/>
<circle cx="304.8" cy="413.9" r="1.85" fill="#E69F00" fill-opacity="0.5" stroke="#E69F00" stroke-opacity="0.5" stroke-width="0.9"/>
<circle cx="308.2" cy="415.6" r="1.85" fill="#E69F00" fill-opacity="0.5" stroke="#E69F00" stroke-opacity="0.5" stroke-width="0.9"/>
<circle cx="304.1" cy="421.5" r="1.85" fill="#E69F00" fill-opacity="0.5" stroke="#E69F00" stroke-opacity="0.5" stroke-width="0.9"/>
<circle cx="302.7" cy="424.2" r="1.85" fill="#E69F00" fill-opacity="0.5" stroke="#E69F00" stroke-opacity="0.5" stroke-width="0.9"/>
<circle cx="307.6" cy="427.0" r="1.85" fill="#E69F00" fill-opacity="0.5" stroke="#E69F00" stroke-opacity="0.5" stroke-width="0.9"/>
<circle cx="305.2" cy="429.5" r="1.85" fill="#E69F00" fill-opacity="0.5" stroke="#E69F00" stroke-opacity="0.5" stroke-width="0.9"/>
<circle cx="303.5" cy="432.8" r="1.85" fill="#E69F00" fill-opacity="0.5" stroke="#E69F00" stroke-opacity="0.5" stroke-width="0.9"/>
<circle cx="307.2" cy="432.8" r="1.85" fill="#E69F00" fill-opacity="0.5" stroke="#E69F00" stroke-opacity="0.5" stroke-width="0.9"/>
<circle cx="340.5" cy="366.0" r="1.85" fill="#0072B2" fill-opacity="0.5" stroke="#0072B2" stroke-opacity="0.5" stroke-width="0.9"/>
<circle cx="343.2" cy="408.0" r="1.85" fill="#0072B2" fill-opacity="0.5" stroke="#0072B2" stroke-opacity="0.5" stroke-width="0.9"/>
<circle cx="343.6" cy="414.8" r="1.85" fill="#0072B2" fill-opacity="0.5" stroke="#0072B2" stroke-opacity="0.5" stroke-width="0.9"/>
<circle cx="344.0" cy="421.5" r="1.85" fill="#0072B2" fill-opacity="0.5" stroke="#0072B2" stroke-opacity="0.5" stroke-width="0.9"/>
<circle cx="342.4" cy="424.5" r="1.85" fill="#0072B2" fill-opacity="0.5" stroke="#0072B2" stroke-opacity="0.5" stroke-width="0.9"/>
<circle cx="345.7" cy="425.5" r="1.85" fill="#0072B2" fill-opacity="0.5" stroke="#0072B2" stroke-opacity="0.5" stroke-width="0.9"/>
<circle cx="346.5" cy="427.9" r="1.85" fill="#0072B2" fill-opacity="0.5" stroke="#0072B2" stroke-opacity="0.5" stroke-width="0.9"/>
<circle cx="341.5" cy="429.6" r="1.85" fill="#0072B2" fill-opacity="0.5" stroke="#0072B2" stroke-opacity="0.5" stroke-width="0.9"/>
<circle cx="344.8" cy="431.2" r="1.85" fill="#0072B2" fill-opacity="0.5" stroke="#0072B2" stroke-opacity="0.5" stroke-width="0.9"/>
<circle cx="340.7" cy="432.8" r="1.85" fill="#0072B2" fill-opacity="0.5" stroke="#0072B2" stroke-opacity="0.5" stroke-width="0.9"/>
<circle cx="347.7" cy="432.8" r="1.85" fill="#0072B2" fill-opacity="0.5" stroke="#0072B2" stroke-opacity="0.5" stroke-width="0.9"/>
<circle cx="380.9" cy="361.8" r="1.85" fill="#D55E00" fill-opacity="0.5" stroke="#D55E00" stroke-opacity="0.5" stroke-width="0.9"/>
<circle cx="380.6" cy="389.8" r="1.85" fill="#D55E00" fill-opacity="0.5" stroke="#D55E00" stroke-opacity="0.5" stroke-width="0.9"/>
<circle cx="379.7" cy="391.3" r="1.85" fill="#D55E00" fill-opacity="0.5" stroke="#D55E00" stroke-opacity="0.5" stroke-width="0.9"/>
<circle cx="381.4" cy="403.0" r="1.85" fill="#D55E00" fill-opacity="0.5" stroke="#D55E00" stroke-opacity="0.5" stroke-width="0.9"/>
<circle cx="384.3" cy="403.0" r="1.85" fill="#D55E00" fill-opacity="0.5" stroke="#D55E00" stroke-opacity="0.5" stroke-width="0.9"/>
<circle cx="379.7" cy="408.8" r="1.85" fill="#D55E00" fill-opacity="0.5" stroke="#D55E00" stroke-opacity="0.5" stroke-width="0.9"/>
<circle cx="380.1" cy="412.1" r="1.85" fill="#D55E00" fill-opacity="0.5" stroke="#D55E00" stroke-opacity="0.5" stroke-width="0.9"/>
<circle cx="381.4" cy="418.8" r="1.85" fill="#D55E00" fill-opacity="0.5" stroke="#D55E00" stroke-opacity="0.5" stroke-width="0.9"/>
<circle cx="382.9" cy="425.0" r="1.85" fill="#D55E00" fill-opacity="0.5" stroke="#D55E00" stroke-opacity="0.5" stroke-width="0.9"/>
<circle cx="379.7" cy="431.9" r="1.85" fill="#D55E00" fill-opacity="0.5" stroke="#D55E00" stroke-opacity="0.5" stroke-width="0.9"/>
<circle cx="382.0" cy="431.9" r="1.85" fill="#D55E00" fill-opacity="0.5" stroke="#D55E00" stroke-opacity="0.5" stroke-width="0.9"/>
<circle cx="386.3" cy="431.9" r="1.85" fill="#D55E00" fill-opacity="0.5" stroke="#D55E00" stroke-opacity="0.5" stroke-width="0.9"/>
<circle cx="381.0" cy="432.5" r="1.85" fill="#D55E00" fill-opacity="0.5" stroke="#D55E00" stroke-opacity="0.5" stroke-width="0.9"/>
<text x="315.17" y="407.20" text-anchor="middle" font-family="Liberation Serif" font-size="14.0" fill="#000" stroke="#000" stroke-width="0.25">*</text>
<text x="391.37" y="400.50" text-anchor="middle" font-family="Liberation Serif" font-size="14.0" fill="#000" stroke="#000" stroke-width="0.25">*</text>
<rect x="242.5" y="232.9" width="164.00" height="209.10" fill="none" stroke="#b4b4b4" stroke-width="1.3"/>
<line x1="240.8" y1="432.8" x2="242.5" y2="432.8" stroke="#666" stroke-width="0.9"/>
<text transform="translate(239.9,435.55) scale(0.93,1)" text-anchor="end" font-size="8.2" font-weight="bold" fill="#111" stroke="#111" stroke-width="0.15">0</text>
<line x1="240.8" y1="377.4" x2="242.5" y2="377.4" stroke="#666" stroke-width="0.9"/>
<text transform="translate(239.9,380.15) scale(0.93,1)" text-anchor="end" font-size="8.2" font-weight="bold" fill="#111" stroke="#111" stroke-width="0.15">2</text>
<line x1="240.8" y1="322.1" x2="242.5" y2="322.1" stroke="#666" stroke-width="0.9"/>
<text transform="translate(239.9,324.85) scale(0.93,1)" text-anchor="end" font-size="8.2" font-weight="bold" fill="#111" stroke="#111" stroke-width="0.15">4</text>
<line x1="240.8" y1="266.7" x2="242.5" y2="266.7" stroke="#666" stroke-width="0.9"/>
<text transform="translate(239.9,269.45) scale(0.93,1)" text-anchor="end" font-size="8.2" font-weight="bold" fill="#111" stroke="#111" stroke-width="0.15">6</text>
<line x1="265.9" y1="442.0" x2="265.9" y2="443.7" stroke="#666" stroke-width="0.9"/>
<text transform="translate(265.9,451.2) scale(0.93,1)" text-anchor="middle" font-size="8.2" font-weight="bold" fill="#111" stroke="#111" stroke-width="0.15">C</text>
<line x1="304.9" y1="442.0" x2="304.9" y2="443.7" stroke="#666" stroke-width="0.9"/>
<text transform="translate(304.9,451.2) scale(0.93,1)" text-anchor="middle" font-size="8.2" font-weight="bold" fill="#111" stroke="#111" stroke-width="0.15">W</text>
<line x1="344.0" y1="442.0" x2="344.0" y2="443.7" stroke="#666" stroke-width="0.9"/>
<text transform="translate(344.0,451.2) scale(0.93,1)" text-anchor="middle" font-size="8.2" font-weight="bold" fill="#111" stroke="#111" stroke-width="0.15">N</text>
<line x1="383.0" y1="442.0" x2="383.0" y2="443.7" stroke="#666" stroke-width="0.9"/>
<text transform="translate(383.0,451.2) scale(0.93,1)" text-anchor="middle" font-size="8.2" font-weight="bold" fill="#111" stroke="#111" stroke-width="0.15">WxN</text>
<text transform="translate(214.8,339.8) rotate(-90)" text-anchor="middle" font-size="11.45" fill="#111" stroke="#111" stroke-width="0.22">Total 2,4-dimethylheptane emissions</text>
<text transform="translate(228.2,338.4) rotate(-90)" text-anchor="middle" font-size="11.45" fill="#111" stroke="#111" stroke-width="0.22">(µg m<tspan dy="-4.2" font-size="7.6">-2</tspan><tspan dy="4.2" dx="0.9"> h</tspan><tspan dy="-4.2" font-size="7.6">-1</tspan><tspan dy="4.2" dx="0.9">)</tspan></text>
<text x="324.50" y="460.0" text-anchor="middle" font-size="8.55" font-weight="bold" fill="#111">Treatment</text>
<text x="412.8" y="86.9" font-size="10.8" font-weight="bold" fill="#111">Treatment</text>
<rect x="413.1" y="95.8" width="13.0" height="51.6" fill="#f2f2f2"/>
<circle cx="419.8" cy="102.80" r="2.6" fill="#009E73" fill-opacity="0.5" stroke="#009E73" stroke-opacity="0.5" stroke-width="1.1"/>
<text x="428.9" y="106.50" font-size="10.55" fill="#111" stroke="#111" stroke-width="0.2">Control</text>
<circle cx="419.8" cy="115.65" r="2.6" fill="#E69F00" fill-opacity="0.5" stroke="#E69F00" stroke-opacity="0.5" stroke-width="1.1"/>
<text x="428.9" y="119.35" font-size="10.55" fill="#111" stroke="#111" stroke-width="0.2">Warmed</text>
<circle cx="419.8" cy="128.50" r="2.6" fill="#0072B2" fill-opacity="0.5" stroke="#0072B2" stroke-opacity="0.5" stroke-width="1.1"/>
<text x="428.9" y="132.20" font-size="10.55" fill="#111" stroke="#111" stroke-width="0.2">Nitrogen</text>
<circle cx="419.8" cy="141.35" r="2.6" fill="#D55E00" fill-opacity="0.5" stroke="#D55E00" stroke-opacity="0.5" stroke-width="1.1"/>
<text x="428.9" y="145.05" font-size="10.55" fill="#111" stroke="#111" stroke-width="0.2">Warmed x Nitrogen</text>
</svg>
</body></html>
